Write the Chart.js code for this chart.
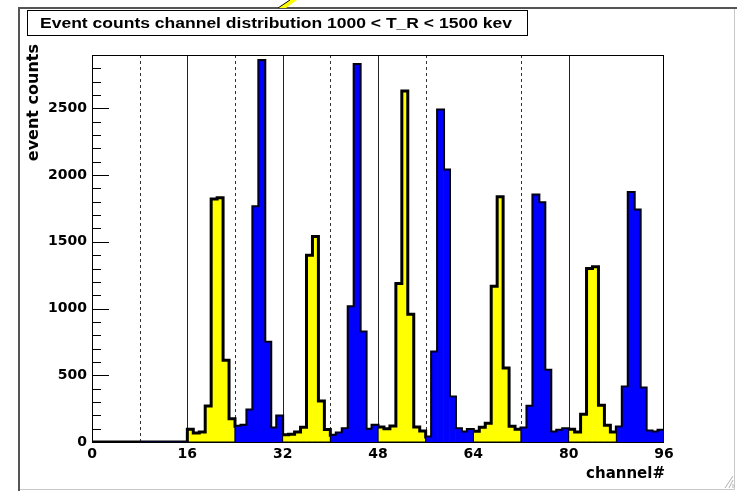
<!DOCTYPE html>
<html>
<head>
<meta charset="utf-8">
<script src="https://cdn.jsdelivr.net/npm/chart.js@4"></script>
<style>
  html, body { margin: 0; padding: 0; background: #ffffff; }
  #wrap { width: 737px; height: 491px; position: relative; }
</style>
</head>
<body>
<div id="wrap"><canvas id="chart" width="737" height="491"></canvas></div>
<script>
// Event counts per channel (96 channels, groups of 8 share a colour)
const channelCount = 96;
const counts = [
  0, 0, 0, 0, 0, 0, 0, 0,
  0, 0, 0, 0, 0, 0, 0, 0,
  95, 68, 75, 270, 1820, 1830, 613, 175,
  118, 125, 240, 1763, 2858, 748, 105, 195,
  55, 58, 75, 110, 1400, 1540, 308, 93,
  50, 68, 100, 1013, 2828, 825, 95, 125,
  113, 100, 120, 1188, 2630, 958, 113, 83,
  38, 675, 2488, 2038, 338, 100, 75, 93,
  80, 110, 140, 1168, 1838, 555, 118, 95,
  105, 268, 1850, 1793, 538, 75, 88, 100,
  95, 75, 208, 1300, 1313, 275, 125, 75,
  113, 413, 1870, 1738, 405, 83, 75, 88
];
const groupSize = 8;
const xTicks = [0, 16, 32, 48, 64, 80, 96];
const yTicks = [0, 500, 1000, 1500, 2000, 2500];
const yMinorStep = 100;
const yMax = 2900;
const solidMarkers = [16, 32, 48, 80];
const dashedMarkers = [8, 24, 40, 56, 72];
const titleText = 'Event counts channel distribution 1000 < T_R < 1500 kev';
const xTitle = 'channel#';
const yTitle = 'event counts';

const YELLOW = '#ffff00';
const BLUE = '#0000ff';
const FONT = "'DejaVu Sans', 'Liberation Sans', sans-serif";
const TITLE_FONT = "'Liberation Sans', Arial, sans-serif";

const isBlue = i => Math.floor(i / groupSize) % 2 === 1;

// bar fills, one bar per channel centred in its bin
const yellowBars = counts.map((v, i) => ({ x: i + 0.5, y: isBlue(i) ? null : v }));
const blueBars = counts.map((v, i) => ({ x: i + 0.5, y: isBlue(i) ? v : null }));
// step outlines along the bin edges
const outlineAll = counts.map((v, i) => ({ x: i, y: v }))
  .concat([{ x: channelCount, y: counts[channelCount - 1] }, { x: channelCount, y: 0 }]);
const outlineBlue = counts.map((v, i) => ({ x: i, y: isBlue(i) ? v : 0 }))
  .concat([{ x: channelCount, y: isBlue(channelCount - 1) ? counts[channelCount - 1] : 0 }, { x: channelCount, y: 0 }]);

const decorations = {
  id: 'decorations',
  beforeDraw(chart) {
    const ctx = chart.ctx;
    ctx.save();
    // window frame
    ctx.fillStyle = '#ffffff';
    ctx.fillRect(0, 0, chart.width, chart.height);
    ctx.strokeStyle = '#555555';
    ctx.lineWidth = 2;
    ctx.beginPath();
    ctx.moveTo(19, 491);
    ctx.lineTo(19, 8);
    ctx.lineTo(737, 8);
    ctx.stroke();
    ctx.strokeStyle = '#c8c8c8';
    ctx.lineWidth = 1;
    ctx.beginPath();
    ctx.moveTo(734.5, 9);
    ctx.lineTo(734.5, 489.5);
    ctx.lineTo(20, 489.5);
    ctx.stroke();
    // resize grip
    ctx.strokeStyle = '#b0b0b0';
    for (let k = 0; k < 3; k++) {
      ctx.beginPath();
      ctx.moveTo(733 - k * 4, 488);
      ctx.lineTo(733, 488 - k * 4 - 4);
      ctx.stroke();
    }
    // arrow tip at the top edge
    ctx.fillStyle = YELLOW;
    ctx.strokeStyle = '#000000';
    ctx.lineWidth = 1;
    ctx.beginPath();
    ctx.moveTo(278, 8);
    ctx.lineTo(290, 0);
    ctx.lineTo(297, 0);
    ctx.lineTo(286, 8);
    ctx.closePath();
    ctx.fill();
    ctx.beginPath();
    ctx.moveTo(278, 8);
    ctx.lineTo(290, 0);
    ctx.stroke();
    ctx.restore();
  },
  beforeDatasetsDraw(chart) {
    const { ctx, chartArea: a, scales: { x } } = chart;
    ctx.save();
    ctx.lineWidth = 1;
    ctx.strokeStyle = '#222222';
    solidMarkers.forEach(v => {
      const px = Math.round(x.getPixelForValue(v)) + 0.5;
      ctx.beginPath(); ctx.moveTo(px, a.top); ctx.lineTo(px, a.bottom); ctx.stroke();
    });
    ctx.setLineDash([3, 3]);
    ctx.strokeStyle = '#333333';
    dashedMarkers.forEach(v => {
      const px = Math.round(x.getPixelForValue(v)) + 0.5;
      ctx.beginPath(); ctx.moveTo(px, a.top); ctx.lineTo(px, a.bottom); ctx.stroke();
    });
    ctx.restore();
  },
  afterDatasetsDraw(chart) {
    const { ctx, chartArea: a, scales: { y } } = chart;
    ctx.save();
    // frame
    ctx.strokeStyle = '#000000';
    ctx.lineWidth = 1;
    ctx.strokeRect(Math.round(a.left) + 0.5, Math.round(a.top) + 0.5,
      Math.round(a.right - a.left) - 1, Math.round(a.bottom - a.top));
    // inward ticks on the count axis
    ctx.beginPath();
    for (let v = 0; v <= yMax; v += yMinorStep) {
      const py = Math.round(y.getPixelForValue(v)) + 0.5;
      const len = yTicks.includes(v) ? 17 : 9;
      ctx.moveTo(a.left, py);
      ctx.lineTo(a.left + len, py);
    }
    ctx.stroke();
    // axis titles
    ctx.fillStyle = '#000000';
    ctx.font = 'bold 16px ' + FONT;
    ctx.textBaseline = 'middle';
    ctx.textAlign = 'right';
    ctx.save();
    ctx.translate(34, 44);
    ctx.rotate(-Math.PI / 2);
    ctx.fillText(yTitle, 0, 0);
    ctx.restore();
    ctx.font = 'bold 15px ' + FONT;
    ctx.fillText(xTitle, a.right + 1, 474);
    // title box
    ctx.fillStyle = '#ffffff';
    ctx.fillRect(27, 10, 500, 25);
    ctx.strokeRect(27.5, 10.5, 500, 25);
    ctx.fillStyle = '#000000';
    ctx.font = 'bold 14px ' + TITLE_FONT;
    ctx.textBaseline = 'alphabetic';
    ctx.textAlign = 'left';
    const natural = ctx.measureText(titleText).width;
    ctx.translate(40, 27.5);
    ctx.scale(472 / natural, 1);
    ctx.fillText(titleText, 0, 0);
    ctx.restore();
  }
};

new Chart(document.getElementById('chart'), {
  data: {
    datasets: [
      {
        type: 'bar', data: yellowBars, backgroundColor: YELLOW, borderWidth: 0,
        barPercentage: 1, categoryPercentage: 1, grouped: false, order: 4
      },
      {
        type: 'line', data: outlineAll, stepped: true, borderColor: '#000000', borderWidth: 3,
        pointRadius: 0, fill: false, borderJoinStyle: 'miter', order: 3
      },
      {
        type: 'bar', data: blueBars, backgroundColor: BLUE, borderWidth: 0,
        barPercentage: 1, categoryPercentage: 1, grouped: false, order: 2
      },
      {
        type: 'line', data: outlineBlue, stepped: true, borderColor: '#000000', borderWidth: 1,
        pointRadius: 0, fill: false, borderJoinStyle: 'miter', order: 1
      }
    ]
  },
  options: {
    responsive: false,
    animation: false,
    events: [],
    layout: { padding: { left: 0, right: 73, top: 55, bottom: 0 } },
    plugins: { legend: { display: false }, tooltip: { enabled: false }, title: { display: false } },
    scales: {
      x: {
        type: 'linear', min: 0, max: channelCount, offset: false,
        grid: { display: false, drawTicks: false },
        border: { display: false },
        ticks: {
          autoSkip: false, maxRotation: 0, padding: 4, color: '#000000',
          font: { family: FONT, size: 14, weight: 'bold' },
          callback: v => String(v)
        },
        afterBuildTicks: s => { s.ticks = xTicks.map(v => ({ value: v })); },
        afterFit: s => { s.height = 49; }
      },
      y: {
        type: 'linear', min: 0, max: yMax,
        grid: { display: false, drawTicks: false },
        border: { display: false },
        ticks: {
          autoSkip: false, padding: 5, color: '#000000',
          font: { family: FONT, size: 14, weight: 'bold' },
          callback: v => String(v)
        },
        afterBuildTicks: s => { s.ticks = yTicks.map(v => ({ value: v })); },
        afterFit: s => { s.width = 92; }
      }
    }
  },
  plugins: [decorations]
});
</script>
</body>
</html>
